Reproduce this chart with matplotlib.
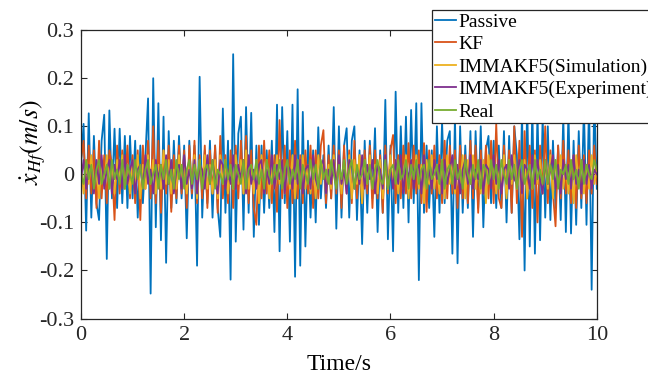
import numpy as np
import matplotlib
matplotlib.use("Agg")
import matplotlib.pyplot as plt

# values, one sample every 0.05 s
dt = 0.05

passive = [
    0.02, 0.105, -0.117, 0.127, -0.09, 0.08, -0.06, -0.095, 0.07, 0.124,
    -0.176, 0.133, -0.05, 0.095, -0.07, 0.095, -0.06, 0.08, -0.07, 0.08,
    -0.05, 0.07, -0.09, 0.06, -0.06, 0.04, 0.158, -0.248, 0.2, -0.11,
    0.148, -0.137, 0.12, -0.184, 0.09, -0.07, 0.07, -0.06, 0.08, -0.05,
    0.06, -0.133, 0.07, -0.05, 0.06, -0.19, 0.203, -0.09, 0.05, -0.06,
    0.07, -0.09, 0.06, -0.07, -0.13, 0.137, -0.08, 0.07, -0.219, 0.25,
    -0.14, 0.085, 0.12, -0.115, 0.14, -0.08, 0.128, -0.13, 0.06, -0.105,
    0.06, -0.08, 0.05, -0.07, 0.07, -0.12, 0.145, -0.16, 0.14, -0.06,
    0.09, -0.14, 0.145, -0.213, 0.177, -0.19, 0.13, -0.15, 0.07, -0.09,
    0.05, -0.1, 0.098, -0.05, 0.04, -0.07, 0.06, -0.05, 0.14, -0.113,
    0.1, -0.09, 0.06, 0.096, -0.09, 0.07, 0.1, -0.095, 0.05, -0.145,
    0.07, -0.08, 0.07, -0.05, 0.096, -0.12, 0.05, -0.08, 0.155, -0.135,
    0.06, -0.16, 0.172, -0.08, 0.1, -0.07, 0.12, -0.1, 0.134, -0.06,
    0.148, -0.22, 0.148, -0.08, 0.06, -0.07, 0.05, -0.13, 0.1, -0.08,
    0.11, -0.06, 0.07, 0.09, -0.165, 0.12, -0.185, 0.1, -0.08, 0.06,
    -0.07, 0.09, -0.13, 0.09, -0.07, 0.1, -0.11, 0.05, 0.08, -0.06,
    0.07, -0.07, 0.06, -0.07, 0.09, -0.1, 0.08, -0.08, 0.1, 0.04,
    -0.135, 0.13, -0.2, 0.15, -0.15, 0.14, -0.165, 0.13, -0.137, 0.12,
    -0.09, 0.1, -0.095, 0.07, -0.07, 0.06, -0.095, 0.12, -0.12, 0.13,
    -0.123, 0.07, -0.105, 0.09, -0.07, 0.14, -0.105, 0.15, -0.24, 0.163,
    -0.03,
]

kf = [
    0.03, 0.07, -0.05, 0.06, -0.04, 0.05, -0.07, 0.07, -0.05, 0.04,
    -0.06, 0.05, 0.02, -0.095, 0.06, -0.04, 0.05, -0.03, 0.06, -0.05,
    0.04, -0.06, 0.05, -0.095, 0.06, -0.03, 0.07, -0.05, 0.1, -0.06,
    0.07, -0.08, 0.05, -0.04, 0.06, -0.078, 0.04, -0.05, 0.06, -0.04,
    0.05, -0.07, 0.06, -0.04, 0.07, -0.06, 0.04, -0.05, 0.06, -0.07,
    0.05, -0.04, 0.06, -0.08, 0.08, -0.05, 0.04, -0.06, 0.05, -0.07,
    0.06, -0.05, 0.07, -0.04, 0.08, -0.06, 0.05, -0.07, -0.105, 0.06,
    -0.05, 0.07, -0.04, 0.05, -0.06, 0.04, -0.078, 0.113, -0.05, 0.06,
    -0.07, 0.05, -0.06, 0.07, -0.05, 0.04, -0.06, 0.05, -0.04, 0.06,
    -0.07, 0.05, -0.05, 0.06, 0.092, -0.06, 0.04, -0.05, 0.06, -0.04,
    0.05, -0.07, 0.06, -0.04, 0.05, -0.06, 0.07, -0.05, 0.04, -0.06,
    0.05, -0.04, 0.06, -0.07, 0.05, -0.05, 0.04, -0.08, 0.06, -0.04,
    0.05, 0.082, -0.06, 0.04, -0.05, 0.06, -0.04, 0.065, -0.05, 0.06,
    -0.04, 0.05, -0.06, 0.065, -0.078, 0.05, -0.04, 0.06, -0.05, 0.04,
    -0.06, 0.07, -0.05, 0.06, -0.04, 0.05, -0.07, 0.06, -0.05, 0.04,
    -0.06, 0.07, -0.05, 0.06, -0.08, 0.05, -0.04, 0.06, -0.05, 0.07,
    -0.06, 0.106, -0.05, -0.07, 0.06, -0.04, 0.05, -0.08, 0.1, -0.06,
    0.07, -0.13, 0.09, -0.05, 0.06, -0.07, 0.05, -0.1, 0.06, -0.04,
    0.1, -0.06, 0.05, -0.04, -0.108, 0.06, -0.05, 0.07, -0.04, 0.05,
    -0.06, 0.04, -0.07, 0.06, -0.05, 0.04, -0.06, 0.05, -0.04, 0.06,
    -0.02,
]

imm_sim = [
    0.02, -0.04, 0.03, -0.02, 0.04, -0.03, 0.01, -0.05, 0.03, -0.02,
    0.04, -0.03, 0.02, -0.04, 0.03, -0.01, 0.04, -0.03, 0.02, -0.04,
    0.03, -0.02, 0.04, -0.05, 0.02, -0.03, 0.04, -0.02, 0.03, -0.04,
    0.02, -0.03, 0.05, -0.02, 0.03, -0.04, 0.01, -0.03, 0.04, -0.02,
    0.03, -0.04, 0.02, -0.03, 0.04, -0.05, 0.03, -0.02, 0.04, -0.03,
    0.02, -0.04, 0.03, -0.05, 0.04, -0.02, 0.03, -0.04, 0.02, -0.03,
    0.04, -0.02, 0.03, -0.04, 0.05, -0.03, 0.02, -0.04, 0.03, -0.06,
    0.04, -0.02, 0.03, -0.05, 0.02, -0.03, 0.04, -0.02, 0.03, -0.04,
    0.02, -0.03, 0.04, -0.05, 0.03, -0.02, 0.04, -0.03, 0.02, -0.04,
    0.03, -0.05, 0.04, -0.02, 0.03, -0.04, 0.02, -0.03, 0.04, -0.02,
    0.03, -0.04, 0.02, -0.03, 0.04, -0.05, 0.03, -0.02, 0.04, -0.06,
    0.03, -0.02, 0.04, -0.03, 0.02, -0.04, 0.03, -0.05, 0.02, -0.03,
    0.04, -0.02, 0.03, -0.04, 0.02, -0.03, 0.04, -0.05, 0.03, -0.02,
    0.04, -0.03, 0.02, -0.06, 0.03, -0.02, 0.04, -0.03, 0.02, -0.04,
    0.03, -0.05, 0.04, -0.02, 0.03, -0.04, 0.02, -0.03, 0.04, -0.05,
    0.03, -0.02, 0.04, -0.03, 0.02, -0.04, 0.03, -0.06, 0.04, -0.02,
    0.03, -0.04, 0.02, -0.03, 0.04, -0.05, 0.03, -0.02, 0.04, -0.03,
    0.02, -0.04, 0.03, -0.05, 0.02, -0.03, 0.04, -0.02, 0.03, -0.04,
    0.02, -0.03, 0.04, -0.05, 0.03, -0.02, 0.04, -0.03, 0.02, -0.04,
    0.03, -0.06, 0.04, -0.02, 0.03, -0.04, 0.02, -0.03, 0.04, -0.02,
    0.01,
]

imm_exp = [
    -0.01, 0.03, -0.03, 0.02, 0.01, -0.04, 0.03, -0.02, 0.04, -0.03,
    0.01, 0.03, -0.04, 0.02, -0.01, 0.03, -0.03, 0.04, -0.02, 0.01,
    0.03, -0.04, 0.01, 0.02, -0.03, 0.04, -0.02, 0.01, -0.04, 0.03,
    -0.01, 0.02, -0.03, 0.04, -0.02, 0.03, -0.04, 0.01, 0.02, -0.03,
    0.04, -0.02, 0.01, -0.03, 0.03, -0.04, 0.02, 0.01, -0.03, 0.04,
    -0.02, 0.03, -0.01, -0.04, 0.03, 0.02, -0.03, 0.01, -0.02, 0.04,
    -0.03, 0.02, -0.01, 0.03, -0.04, 0.04, -0.02, 0.01, -0.03, 0.02,
    0.03, -0.04, 0.01, -0.02, 0.04, -0.03, 0.02, -0.01, 0.03, -0.04,
    0.02, 0.01, -0.03, 0.04, -0.02, 0.03, -0.04, 0.01, 0.02, -0.03,
    0.04, -0.01, -0.03, 0.02, 0.03, -0.04, 0.01, -0.02, 0.03, -0.03,
    0.04, -0.02, 0.01, -0.04, 0.03, 0.02, -0.03, 0.01, -0.02, 0.04,
    -0.03, 0.02, -0.01, 0.03, -0.04, 0.02, 0.01, -0.03, 0.04, -0.02,
    0.01, -0.03, 0.03, -0.02, 0.04, -0.04, 0.02, -0.01, 0.03, -0.03,
    0.01, 0.02, -0.04, 0.04, -0.02, 0.01, -0.03, 0.03, -0.01, 0.02,
    -0.04, 0.03, -0.02, 0.01, 0.04, -0.03, 0.02, -0.04, 0.01, 0.03,
    -0.02, 0.04, -0.03, 0.01, -0.01, 0.03, -0.04, 0.02, 0.01, -0.03,
    0.04, -0.02, 0.03, -0.04, 0.01, 0.02, -0.03, 0.04, -0.01, -0.02,
    0.03, -0.04, 0.02, 0.01, -0.03, 0.04, -0.02, 0.03, -0.01, -0.04,
    0.03, -0.02, 0.01, 0.04, -0.03, 0.02, -0.04, 0.03, -0.01, 0.02,
    -0.03, 0.04, -0.02, 0.01, -0.04, 0.03, -0.02, 0.02, -0.03, 0.01,
    0.0,
]

real = [
    0.0, -0.02, 0.03, -0.01, 0.02, -0.03, 0.01, 0.03, -0.02, 0.0,
    0.02, -0.03, 0.03, -0.01, 0.01, -0.02, 0.03, -0.03, 0.02, 0.0,
    -0.02, 0.03, -0.01, 0.02, -0.03, 0.01, 0.03, -0.02, 0.0, 0.02,
    -0.03, 0.02, -0.01, 0.03, -0.02, 0.01, -0.03, 0.03, -0.01, 0.02,
    -0.03, 0.01, 0.03, -0.02, 0.02, -0.01, 0.03, -0.03, 0.01, 0.02,
    -0.02, 0.03, -0.03, 0.01, 0.0, -0.02, 0.03, -0.01, 0.02, -0.03,
    0.02, 0.0, -0.02, 0.03, -0.03, 0.01, 0.02, -0.01, 0.03, -0.02,
    0.01, -0.03, 0.03, 0.0, -0.02, 0.02, -0.01, 0.03, -0.03, 0.01,
    0.03, -0.02, 0.01, -0.01, 0.03, -0.03, 0.02, 0.0, -0.02, 0.03,
    -0.01, 0.02, -0.03, 0.03, -0.01, 0.01, -0.02, 0.03, 0.0, -0.03,
    0.02, -0.01, 0.03, -0.02, 0.01, 0.03, -0.03, 0.02, -0.01, 0.0,
    0.03, -0.02, 0.02, -0.03, 0.01, 0.03, -0.01, -0.02, 0.03, -0.03,
    0.01, 0.02, -0.02, 0.03, -0.01, 0.0, 0.03, -0.03, 0.02, -0.01,
    0.03, -0.02, 0.01, 0.02, -0.03, 0.03, -0.01, 0.0, 0.02, -0.02,
    0.03, -0.03, 0.01, 0.02, -0.02, 0.03, -0.01, 0.01, -0.03, 0.03,
    0.0, -0.02, 0.02, -0.01, 0.03, -0.03, 0.02, 0.01, -0.02, 0.03,
    -0.01, 0.02, -0.03, 0.03, 0.0, -0.02, 0.03, -0.01, 0.02, -0.03,
    0.01, 0.03, -0.02, 0.0, 0.02, -0.03, 0.03, -0.01, 0.01, -0.02,
    0.03, -0.02, 0.02, -0.01, 0.03, -0.03, 0.01, 0.0, 0.02, -0.02,
    0.03, -0.01, 0.01, -0.03, 0.03, -0.02, 0.02, 0.0, -0.01, 0.03,
    0.01,
]

labels = ["Passive", "KF", "IMMAKF5(Simulation)", "IMMAKF5(Experiment)", "Real"]
colors = ["#0072BD", "#D95319", "#EDB120", "#7E2F8E", "#77AC30"]
series = [passive, kf, imm_sim, imm_exp, real]

xticks = [0, 2, 4, 6, 8, 10]
yticks = [-0.3, -0.2, -0.1, 0, 0.1, 0.2, 0.3]
yticklabels = ["-0.3", "-0.2", "-0.1", "0", "0.1", "0.2", "0.3"]

plt.rcParams['font.family'] = ['Liberation Serif', 'DejaVu Serif']
plt.rcParams['mathtext.fontset'] = 'stix'

fig = plt.figure(figsize=(6.48, 3.77), dpi=100)
ax = fig.add_axes([0.125, 0.155, 0.796, 0.765])

for vals, lab, c in zip(series, labels, colors):
    t = np.arange(len(vals)) * dt
    ax.plot(t, vals, color=c, lw=1.3, label=lab)

ax.set_xlim(0, 10)
ax.set_ylim(-0.3, 0.3)
ax.set_xticks(xticks)
ax.set_yticks(yticks)
ax.set_yticklabels(yticklabels)
ax.tick_params(direction='in', length=4, width=0.8, labelsize=16,
               top=True, right=True, pad=5, colors='#262626')
for s in ax.spines.values():
    s.set_linewidth(0.9)
    s.set_color('#262626')

ax.set_xlabel("Time/s", fontsize=17, labelpad=7)
ax.set_ylabel(r"$\dot{x}_{Hf}(m/s)$", fontsize=18.5)
ax.yaxis.set_label_coords(-0.064, 0.612)

leg = fig.legend(loc='upper left', bbox_to_anchor=(432 / 648, 1 - 10 / 377),
                 fontsize=14, frameon=True, fancybox=False, framealpha=1,
                 edgecolor='#262626', handlelength=1.1, handletextpad=0.1,
                 labelspacing=0.25, borderpad=0.15, borderaxespad=0)
leg.get_frame().set_linewidth(0.9)

fig.savefig("out.png", dpi=100)
